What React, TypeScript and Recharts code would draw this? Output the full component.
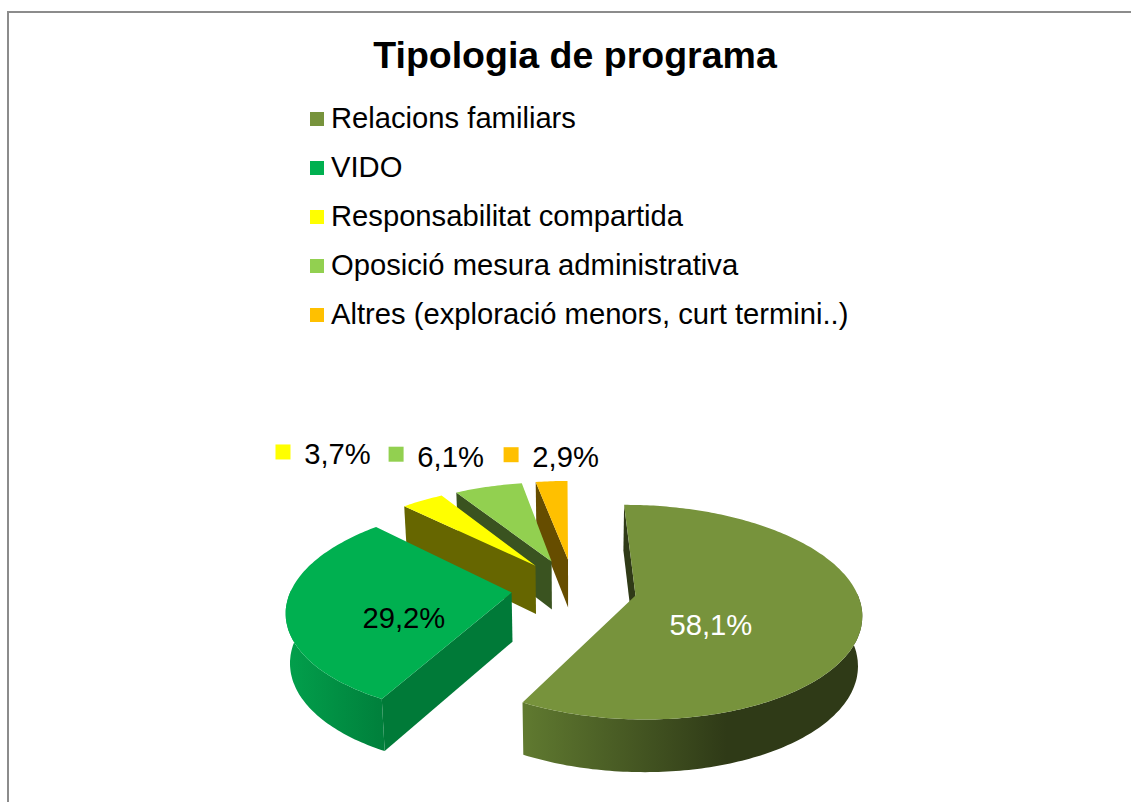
import React from 'react';
import { PieChart, Pie } from 'recharts';

const categories = [
  'Relacions familiars',
  'VIDO',
  'Responsabilitat compartida',
  'Oposició mesura administrativa',
  'Altres (exploració menors, curt termini..)',
];
const values = [58.1, 29.2, 3.7, 6.1, 2.9];
const topColors = ['#77933C', '#00B050', '#FFFF00', '#92D050', '#FFC000'];
const cutColors = ['#2F3A17', '#007A38', '#666600', '#3A5320', '#664D00'];
const wallFrom = ['#607A30', '#02A04C', '#666600', '#3A5320', '#664D00'];
const wallTo = ['#2F3A17', '#007F3B', '#666600', '#3A5320', '#664D00'];
const labelColors = ['#FFFFFF', '#000000', '#000000', '#000000', '#000000'];
// label offset from the slice's outer mid point
const labelShift = [[-151, 3], [118, 9], [-85, -46], [-38, -30], [14, -24]];
const labelKey = [false, false, true, true, true];

// drawn back to front, so the list runs the other way round the pie
const pieData = categories
  .map((name, i) => ({ name, value: values[i], index: i, fill: topColors[i] }))
  .reverse();

const EXPLODE = 0.285;
const SQUASH = 105 / 220;
const PX = 0.16;
const PY = 0.16;
const DEPTH = 49;
const DP = 0.07;
const SHRINK = 0.015;

const project = (cx: number, cy: number, R: number, u: number, v: number, drop = 0) => ({
  x: cx + u * R * (1 + PX * v) * (1 - SHRINK * drop),
  y: cy + v * R * SQUASH * (1 + PY * v) + drop * DEPTH * (1 + DP * v),
});

const dir = (deg: number) => ({
  u: Math.cos((deg * Math.PI) / 180),
  v: -Math.sin((deg * Math.PI) / 180),
});

const toPath = (pts: { x: number; y: number }[]) =>
  'M' + pts.map((p) => `${p.x.toFixed(1)},${p.y.toFixed(1)}`).join('L') + 'Z';

const area = (pts: { x: number; y: number }[]) =>
  pts.reduce((s, p, i) => {
    const q = pts[(i + 1) % pts.length];
    return s + p.x * q.y - q.x * p.y;
  }, 0);

const Slice3D = (props: any) => {
  const { cx, cy, outerRadius: R, startAngle, endAngle, payload } = props;
  const i = payload.index;
  const a0 = Math.min(startAngle, endAngle);
  const a1 = Math.max(startAngle, endAngle);
  const mid = dir((a0 + a1) / 2);
  const ox = mid.u * EXPLODE;
  const oy = mid.v * EXPLODE;
  const P = (r: number, deg: number, drop = 0) => {
    const d = dir(deg);
    return project(cx, cy, R, ox + d.u * r, oy + d.v * r, drop);
  };
  const steps = Math.max(4, Math.ceil(a1 - a0));
  const angles = Array.from({ length: steps + 1 }, (_, k) => a0 + ((a1 - a0) * k) / steps);
  const apex = P(0, a0);
  const apexLow = P(0, a0, 1);
  const top = [apex, ...angles.map((a) => P(1, a))];

  // outer wall only where the rim faces the viewer
  const front = angles.filter((a) => dir(a).v >= -0.02);
  const wall = front.length > 1
    ? [...front.map((a) => P(1, a)), ...[...front].reverse().map((a) => P(1, a, 1))]
    : null;

  // cut faces, kept if they turn towards the viewer
  const faceA = [apex, P(1, a0), P(1, a0, 1), apexLow];
  const faceB = [apexLow, P(1, a1, 1), P(1, a1), apex];
  const gid = `wall-${i}`;
  return (
    <g>
      <defs>
        <linearGradient id={gid} x1="0" y1="0" x2="1" y2="0">
          <stop offset="0" stopColor={wallFrom[i]} />
          <stop offset={i === 0 ? 0.6 : 1} stopColor={wallTo[i]} />
        </linearGradient>
      </defs>
      {area(faceA) > 0 && <path d={toPath(faceA)} fill={cutColors[i]} />}
      {area(faceB) > 0 && <path d={toPath(faceB)} fill={cutColors[i]} />}
      {wall && <path d={toPath(wall)} fill={`url(#${gid})`} />}
      <path d={toPath(top)} fill={topColors[i]} />
    </g>
  );
};

const renderLabel = (props: any) => {
  const { cx, cy, outerRadius: R, midAngle, payload } = props;
  const i = payload.index;
  const d = dir(midAngle);
  const p = project(cx, cy, R, d.u * (1 + EXPLODE), d.v * (1 + EXPLODE));
  const x = p.x + labelShift[i][0];
  const y = p.y + labelShift[i][1];
  return (
    <g key={i}>
      {labelKey[i] && <rect x={x - 62} y={y - 10} width={15} height={15} fill={topColors[i]} />}
      <text
        x={x}
        y={y}
        textAnchor="middle"
        dominantBaseline="central"
        fontFamily="Liberation Sans"
        fontSize={29.2}
        fill={labelColors[i]}
      >
        {values[i].toFixed(1).replace('.', ',')}%
      </text>
    </g>
  );
};

export default function App() {
  return (
    <div style={{ position: 'absolute', left: 0, top: 0, width: 1131, height: 802, overflow: 'hidden', background: '#fff' }}>
      <div style={{ position: 'absolute', left: 7, top: 11, width: 1130, height: 800, borderLeft: '2px solid #8C8C8C', borderTop: '2px solid #8C8C8C' }} />
      <div style={{ position: 'absolute', left: 0, top: 31, width: 1150, textAlign: 'center', fontFamily: 'Liberation Sans', fontWeight: 700, fontSize: 37.5, lineHeight: '48px' }}>
        Tipologia de programa
      </div>
      {categories.map((name, i) => (
        <div key={name} style={{ position: 'absolute', left: 310, top: 98 + i * 49, height: 40, whiteSpace: 'nowrap' }}>
          <span style={{ position: 'absolute', left: 0, top: 14, width: 14, height: 14, background: topColors[i] }} />
          <span style={{ position: 'absolute', left: 21, top: 0, fontFamily: 'Liberation Sans', fontSize: 29.2, lineHeight: '40px', color: '#000' }}>
            {name}
          </span>
        </div>
      ))}
      <div style={{ position: 'absolute', left: 0, top: 0 }}>
        <PieChart width={1131} height={802} margin={{ top: 0, right: 0, bottom: 0, left: 0 }}>
          <Pie
            data={pieData}
            dataKey="value"
            nameKey="name"
            cx={574}
            cy={588}
            outerRadius={220}
            startAngle={90.5}
            endAngle={450.5}
            paddingAngle={0}
            shape={Slice3D}
            label={renderLabel}
            labelLine={false}
            isAnimationActive={false}
          />
        </PieChart>
      </div>
    </div>
  );
}
